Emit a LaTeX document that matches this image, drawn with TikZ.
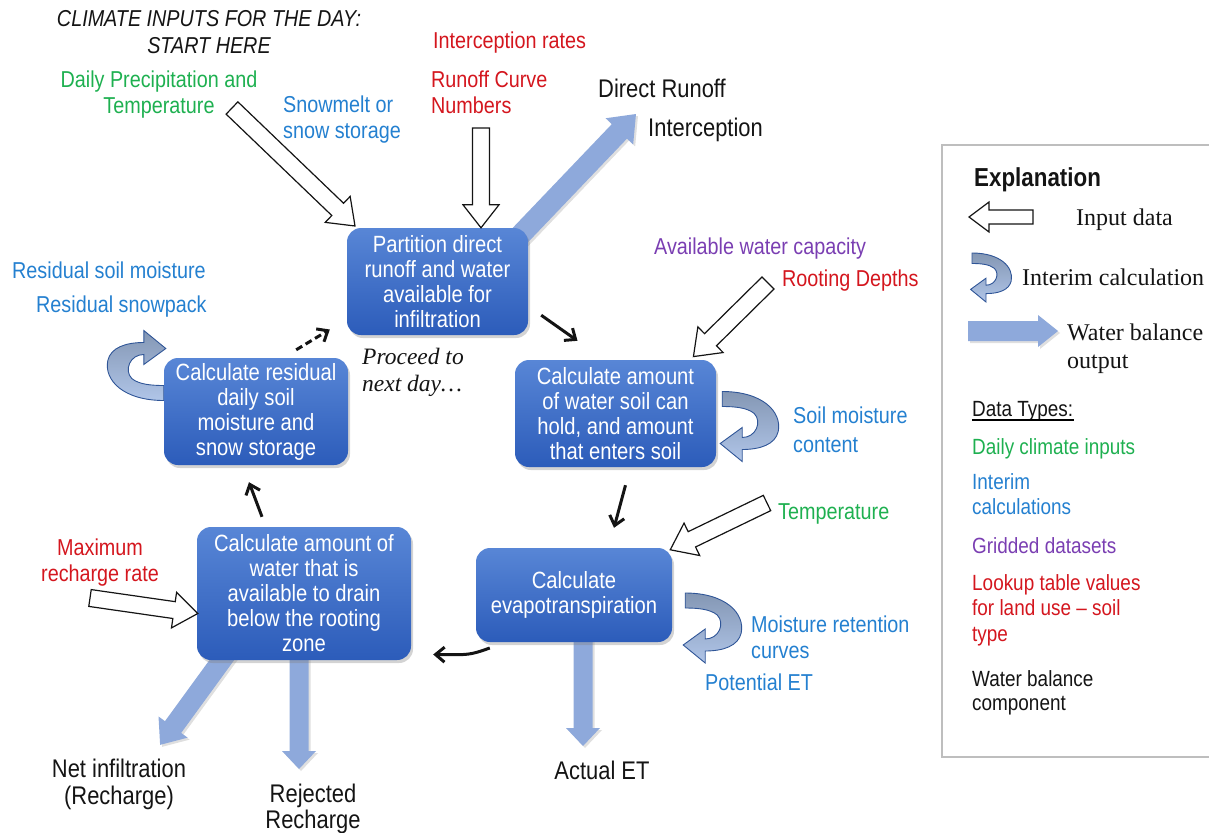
\documentclass[tikz,border=0pt]{standalone}
\usepackage{fontspec}
\setmainfont{Liberation Sans}
\newfontfamily\cond[FakeStretch=0.86]{Liberation Sans}
\newfontfamily\serf{Liberation Serif}
\usetikzlibrary{arrows.meta,calc,shadows,backgrounds}
\definecolor{cgreen}{RGB}{30,176,80}
\definecolor{cblue}{RGB}{36,128,208}
\definecolor{cred}{RGB}{212,22,30}
\definecolor{cpurple}{RGB}{122,62,178}
\definecolor{ctext}{RGB}{20,20,20}
\definecolor{boxtop}{RGB}{88,134,214}
\definecolor{boxbot}{RGB}{44,92,186}
\definecolor{outblue}{RGB}{142,169,219}
\definecolor{ribtop}{RGB}{132,151,180}
\definecolor{ribbot}{RGB}{176,197,232}
\definecolor{ribline}{RGB}{47,85,151}
\definecolor{legline}{RGB}{190,190,190}
% block arrow: #1 style, #2 tail, #3 tip, #4 shaft half width, #5 head half width, #6 head length
\newcommand\blockarr[6]{%
  \path let \p1=($(#3)-(#2)$) in \pgfextra{%
    \pgfmathsetmacro\tmpL{veclen(\x1,\y1)}%
    \pgfmathsetmacro\tmpA{atan2(\y1,\x1)}%
    \global\let\bkL\tmpL\global\let\bkA\tmpA};
  \pgfmathsetmacro\bkB{\bkL-#6}%
  \draw[#1,shift={(#2)},rotate=\bkA] (0pt,#4pt) -- (\bkB pt,#4pt) -- (\bkB pt,#5pt) -- (\bkL pt,0pt)
     -- (\bkB pt,-#5pt) -- (\bkB pt,-#4pt) -- (0pt,-#4pt) -- cycle;
}
% curved interim ribbon arrow, local coordinates
\newcommand\ribbonarr[1]{%
  \draw[ribbonst,#1] (0,0) .. controls (40,0) and (60,20) .. (56,40)
     .. controls (53,53) and (38,58) .. (20,58) -- (20,70) -- (-2,52) -- (20,36) -- (20,46)
     .. controls (34,46) and (40,30) .. (32,22) .. controls (25,16) and (12,15) .. (0,15) -- cycle;
}
\begin{document}
\begin{tikzpicture}[x=1pt,y=-1pt,
  lab/.style={inner sep=0pt, font=\cond\fontsize{23}{26}\selectfont, text=ctext, align=left, anchor=north west},
  blk/.style={inner sep=0pt, font=\cond\fontsize{25.5}{27}\selectfont, text=ctext, align=center, anchor=north},
  leg/.style={inner sep=0pt, font=\cond\fontsize{22}{25}\selectfont, text=ctext, align=left, anchor=north west},
  legs/.style={inner sep=0pt, font=\serf\fontsize{24}{28}\selectfont, text=ctext, align=left, anchor=north west},
  box/.style={rounded corners=14pt, top color=boxtop, bottom color=boxbot, draw=none, text=white,
     font=\cond\fontsize{23.5}{25}\selectfont, align=center, inner sep=0pt,
     drop shadow={shadow xshift=2pt, shadow yshift=-3pt, opacity=0.35}},
  flow/.style={line width=3pt, draw=ctext, -{Straight Barb[length=9pt,width=15pt]}},
  inarrow/.style={draw=ctext, fill=white, line width=1.2pt, line join=miter},
  outarrow/.style={fill=outblue, draw=none, drop shadow={shadow xshift=2pt, shadow yshift=-2pt, opacity=0.25}},
  ribbonst/.style={draw=ribline, line width=0.9pt, top color=ribtop, bottom color=ribbot},
  uline/.style={draw=black, line width=1.6pt}
]
\useasboundingbox (0,0) rectangle (1209,832);

% ---------- process boxes ----------
\node[box, minimum width=181pt, minimum height=107pt] (b1) at (437.5,281.5) {Partition direct\\runoff and water\\available for\\infiltration};
\node[box, minimum width=201pt, minimum height=107pt] (b2) at (615.5,413.5) {Calculate amount\\of water soil can\\hold, and amount\\that enters soil};
\node[box, minimum width=196pt, minimum height=94pt] (b3) at (574,595) {Calculate\\evapotranspiration};
\node[box, minimum width=214pt, minimum height=133pt] (b4) at (304,593.5) {Calculate amount of\\water that is\\available to drain\\below the rooting\\zone};
\node[box, minimum width=184pt, minimum height=107pt] (b5) at (256,411.5) {Calculate residual\\daily soil\\moisture and\\snow storage};

% ---------- output (water balance) arrows and interim ribbons ----------
\begin{scope}[on background layer]
  \coordinate (drT) at ($(b1.north east)+(-20,20)$);
  \coordinate (drH) at (636,114);
  \blockarr{outarrow}{drT}{drH}{10.5}{19}{24}
  \coordinate (niT) at ($(b4.south)+(-75,-10)$);
  \coordinate (niH) at (160,745);
  \blockarr{outarrow}{niT}{niH}{10}{18}{22}
  \coordinate (rrT) at ($(b4.south)+(-5,-10)$);
  \coordinate (rrH) at (299,769);
  \blockarr{outarrow}{rrT}{rrH}{9.5}{17}{18}
  \coordinate (aeT) at ($(b3.south)+(9,-8)$);
  \coordinate (aeH) at (583,746);
  \blockarr{outarrow}{aeT}{aeH}{9.5}{17}{18}
  \ribbonarr{shift={($(b2.east)+(6,-22)$)}}
  \ribbonarr{shift={($(b3.east)+(13,-2)$)}}
  \ribbonarr{shift={($(b5.west)+(0,-11)$)},rotate=180}
\end{scope}

% ---------- input (data) arrows ----------
\coordinate (dpT) at (232,108); \coordinate (dpH) at (355,226);
\blockarr{inarrow}{dpT}{dpH}{8.5}{18}{24}
\coordinate (rcT) at (481,128); \coordinate (rcH) at ($(b1.north)+(43.5,0)$);
\blockarr{inarrow}{rcT}{rcH}{8.5}{18}{23}
\coordinate (awT) at (768,283); \coordinate (awH) at ($(b2.north east)+(-23,-3)$);
\blockarr{inarrow}{awT}{awH}{8.5}{18}{24}
\coordinate (tT) at (767,503); \coordinate (tH) at ($(b3.north east)+(-2,2)$);
\blockarr{inarrow}{tT}{tH}{8.5}{18}{24}
\coordinate (mrT) at (90,598); \coordinate (mrH) at ($(b4.west)+(1,20)$);
\blockarr{inarrow}{mrT}{mrH}{8.5}{18}{24}

% ---------- process flow ----------
\draw[flow] ($(b1.south east)+(13,-20)$) -- ($(b2.north)+(-38,-19)$);
\draw[flow] ($(b2.south)+(10,18)$) -- ($(b3.north)+(40,-20)$);
\draw[flow] ($(b3.west)+(14,53)$) .. controls ($(b3.west)+(-6,60)$) .. ($(b4.east)+(22,61)$);
\draw[flow] ($(b4.north)+(-42,-10)$) -- ($(b5.south)+(-7,17)$);
\draw[flow, dash pattern=on 7pt off 4pt] ($(b5.north east)+(-52,-8)$) -- ($(b1.west)+(-17,48)$);

% ---------- labels ----------
\node[lab, anchor=north, align=center, font=\cond\itshape\fontsize{23}{27}\selectfont] (title) at (209,10) {CLIMATE INPUTS FOR THE DAY:\\START HERE};
\node[lab, text=cgreen, anchor=north, align=center] (lDP) at (159,71) {Daily Precipitation and\\Temperature};
\node[lab, text=cblue] (lSM) at (283,96) {Snowmelt or\\snow storage};
\node[lab, text=cred] (lIR) at (433,31.5) {Interception rates};
\node[lab, text=cred] (lRC) at (431,70.5) {Runoff Curve\\Numbers};
\node[blk, anchor=north west] (lDR) at (598,79) {Direct Runoff};
\node[blk, anchor=north west] (lIC) at (648,118) {Interception};
\node[lab, text=cpurple] (lAW) at (654,237.5) {Available water capacity};
\node[lab, text=cred] (lRD) at (782,269.5) {Rooting Depths};
\node[lab, text=cblue] (lRS) at (12,261.5) {Residual soil moisture};
\node[lab, text=cblue] (lRP) at (36,295.5) {Residual snowpack};
\node[lab, text=cblue, font=\cond\fontsize{23}{29}\selectfont] (lSC) at (793,406.5) {Soil moisture\\content};
\node[lab, text=cgreen] (lT2) at (778,503.5) {Temperature};
\node[lab, text=cblue] (lMR) at (751,615.5) {Moisture retention\\curves};
\node[lab, text=cblue] (lPE) at (705,673.5) {Potential ET};
\node[lab, text=cred, anchor=north, align=center] (lMX) at (100,538.5) {Maximum\\recharge rate};
\node[blk] (lNI) at (119,759) {Net infiltration\\(Recharge)};
\node[blk, font=\cond\fontsize{25.5}{26}\selectfont] (lRJ) at (313,784) {Rejected\\Recharge};
\node[blk] (lAE) at (602,761) {Actual ET};
\node[inner sep=0pt, anchor=north west, align=left, text=ctext, font=\serf\itshape\fontsize{23.5}{27}\selectfont] (lPN) at (362,348) {Proceed to\\next day\ldots};

% ---------- explanation ----------
\draw[legline, line width=1.2pt] (1212,145) -- (942,145) -- (942,757) -- (1212,757);
\node[leg, font=\cond\bfseries\fontsize{26}{28}\selectfont] (eTitle) at (974,167) {Explanation};
\coordinate (lgInT) at (1033,217); \coordinate (lgInH) at (969,217);
\blockarr{inarrow}{lgInT}{lgInH}{7}{15}{20}
\node[legs] (eIn) at (1076,209) {Input data};
\ribbonarr{shift={(972,253)},scale=0.7}
\node[legs] (eIC) at (1022,269) {Interim calculation};
\coordinate (lgOutT) at (968,331); \coordinate (lgOutH) at (1058,331);
\blockarr{outarrow}{lgOutT}{lgOutH}{10}{16}{20}
\node[legs] (eWB) at (1067,324) {Water balance\\output};
\node[leg] (eDT) at (972,401) {Data Types:};
\draw[uline] (eDT.south west) ++(0,-1) -- ++(102,0);
\node[leg, text=cgreen] (eD1) at (972,438) {Daily climate inputs};
\node[leg, text=cblue] (eD2) at (972,473) {Interim\\calculations};
\node[leg, text=cpurple] (eD3) at (972,537) {Gridded datasets};
\node[leg, text=cred, font=\cond\fontsize{22}{25.5}\selectfont] (eD4) at (972,574) {Lookup table values\\for land use – soil\\type};
\node[leg, font=\cond\fontsize{22}{24}\selectfont] (eD5) at (972,670) {Water balance\\component};
\end{tikzpicture}
\end{document}
